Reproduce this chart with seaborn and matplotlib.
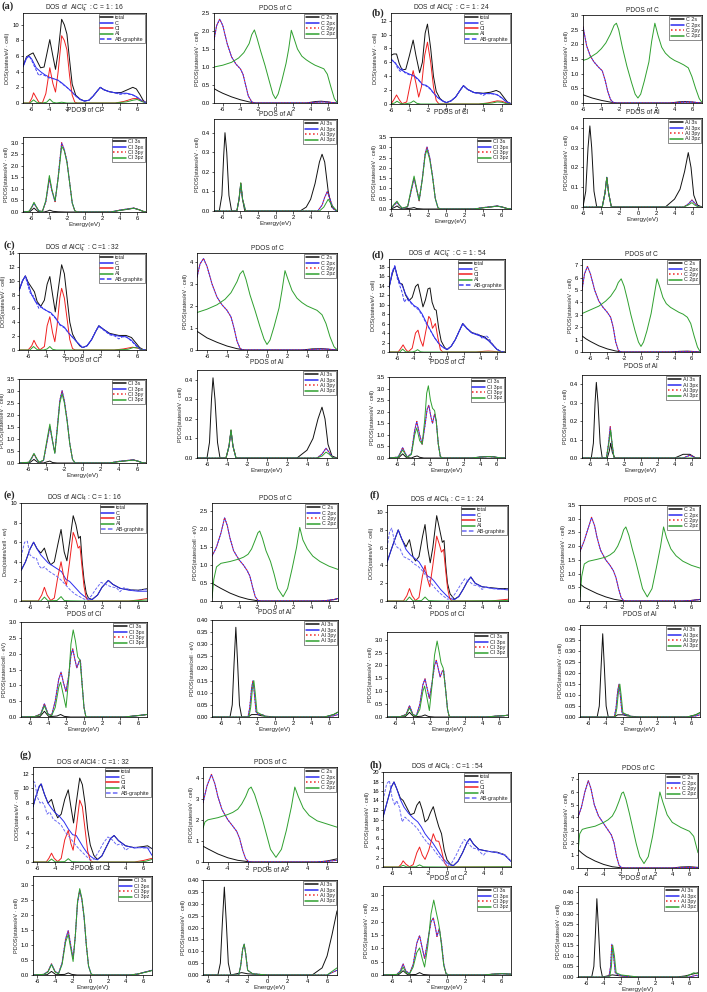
# DOS / PDOS panels (a)-(h) for AlCl4 intercalated graphite
import matplotlib
matplotlib.use("Agg")
import matplotlib.pyplot as plt
from matplotlib.ticker import FormatStrFormatter
import pandas as pd
import seaborn as sns

# ---------------- data: (energy eV, states) ----------------
# panel (a)  C = 1:16, anion
A_TOT = [(-7,4.7),(-6.6,5.9),(-6.2,6.2),(-5.85,6.4),(-5.5,5.6),(-5.0,4.5),(-4.6,4.6),(-4.3,6.2),(-3.95,8.1),(-3.6,6.0),(-3.3,4.3),(-3.0,6.5),(-2.6,10.7),(-2.3,10.0),(-2.0,8.8),(-1.7,5.5),(-1.4,2.4),(-1.0,1.0),(-0.5,0.5),(0,0.25),(0.5,0.35),(1.0,0.9),(1.5,1.6),(1.8,2.0),(2.2,1.7),(2.8,1.45),(3.5,1.3),(4.2,1.35),(4.8,1.65),(5.5,2.0),(5.9,1.8),(6.3,1.1),(6.7,0.3),(7,0.05)]
A_C = [(-7,4.6),(-6.6,5.7),(-6.3,6.0),(-6.0,5.6),(-5.5,4.5),(-5.0,4.0),(-4.5,3.6),(-4.0,3.3),(-3.5,3.1),(-3.0,2.9),(-2.5,2.5),(-2.0,2.0),(-1.5,1.5),(-1.0,0.9),(-0.5,0.45),(0,0.25),(0.5,0.35),(1.0,0.9),(1.5,1.6),(1.8,2.0),(2.2,1.7),(2.8,1.45),(3.5,1.3),(4.2,1.25),(4.8,1.25),(5.5,1.05),(6.0,0.75),(6.5,0.3),(7,0.05)]
A_CL = [(-7,0),(-6.3,0),(-6.0,0.6),(-5.8,1.3),(-5.5,0.7),(-5.2,0.1),(-4.8,0),(-4.4,1.2),(-3.95,4.5),(-3.6,2.5),(-3.3,1.4),(-3.0,4.0),(-2.6,8.6),(-2.3,8.0),(-2.0,6.8),(-1.7,3.5),(-1.4,1.0),(-1.1,0.1),(-0.8,0),(3.5,0),(4.5,0.2),(5.5,0.55),(6.0,0.6),(6.5,0.3),(7,0.05)]
A_AL = [(-7,0),(-6.2,0),(-5.8,0.4),(-5.4,0.05),(-4.8,0),(-4.3,0.1),(-3.95,0.5),(-3.6,0.1),(-3.2,0),(-2.6,0.1),(-2.0,0),(3.5,0),(4.8,0.15),(5.5,0.35),(6.0,0.45),(6.5,0.2),(7,0)]
A_AB = [(-7,4.7),(-6.6,5.8),(-6.3,6.0),(-6.0,5.4),(-5.5,4.2),(-5.2,3.5),(-4.9,3.7),(-4.5,3.5),(-4.0,3.2),(-3.5,3.1),(-3.0,2.9),(-2.5,2.4),(-2.0,2.0),(-1.5,1.5),(-1.0,0.9),(-0.5,0.45),(0,0.25),(0.5,0.35),(1.0,0.9),(1.5,1.6),(1.8,2.0),(2.2,1.7),(2.8,1.45),(3.5,1.3),(4.0,1.1),(4.3,1.15),(4.8,1.2),(5.5,1.0),(6.0,0.7),(6.5,0.3),(7,0.05)]
A_C2S = [(-7,0.4),(-6.5,0.33),(-6,0.27),(-5,0.17),(-4,0.09),(-3,0.03),(-2.3,0.0),(3.5,0.0),(4.5,0.04),(5.2,0.05),(6,0.03),(6.5,0.01),(7,0)]
A_C2P = [(-7,1.75),(-6.7,2.15),(-6.35,2.33),(-6.0,2.15),(-5.5,1.65),(-5.0,1.28),(-4.5,1.08),(-4.0,0.95),(-3.7,0.8),(-3.4,0.5),(-3.1,0.2),(-2.7,0.03),(-2.4,0),(3.5,0),(4.5,0.02),(5.5,0.03),(6.5,0.01),(7,0)]
A_C2PZ = [(-7,1.0),(-6,1.05),(-5,1.13),(-4.2,1.25),(-3.6,1.4),(-3.0,1.65),(-2.7,1.9),(-2.4,2.03),(-2.1,1.8),(-1.7,1.45),(-1.2,1.05),(-0.7,0.6),(-0.3,0.25),(0,0.12),(0.3,0.25),(0.7,0.6),(1.2,1.1),(1.5,1.5),(1.8,2.02),(2.1,1.8),(2.5,1.5),(3.0,1.3),(3.5,1.2),(4.0,1.12),(4.5,1.05),(5.0,1.0),(5.5,0.95),(5.9,0.8),(6.3,0.45),(6.7,0.12),(7,0.02)]
A_CL3S = [(-7,0),(-6.2,0.02),(-5.75,0.17),(-5.3,0.02),(-4.6,0),(-4.2,0.04),(-3.95,0.08),(-3.6,0.03),(-3.0,0.01),(-2.0,0),(3.0,0),(4.0,0.07),(5.0,0.12),(5.6,0.17),(6.2,0.1),(6.8,0.01),(7,0)]
A_CL3P = [(-7,0),(-6.3,0.03),(-6.0,0.2),(-5.75,0.38),(-5.5,0.22),(-5.2,0.05),(-4.8,0.02),(-4.4,0.45),(-4.0,1.45),(-3.7,0.9),(-3.35,0.45),(-3.0,1.5),(-2.6,3.0),(-2.3,2.7),(-2.0,2.2),(-1.7,1.3),(-1.4,0.4),(-1.1,0.05),(-0.8,0),(3.0,0),(4.0,0.08),(5.0,0.14),(5.6,0.17),(6.2,0.1),(6.8,0.01),(7,0)]
A_CL3PZ = [(-7,0),(-6.3,0.03),(-6.0,0.22),(-5.75,0.42),(-5.5,0.24),(-5.2,0.05),(-4.8,0.02),(-4.4,0.5),(-4.0,1.58),(-3.7,0.95),(-3.35,0.48),(-3.0,1.45),(-2.6,2.85),(-2.3,2.65),(-2.0,2.15),(-1.7,1.3),(-1.4,0.4),(-1.1,0.05),(-0.8,0),(3.0,0),(4.0,0.07),(5.0,0.13),(5.6,0.16),(6.2,0.1),(6.8,0.01),(7,0)]
A_AL3S = [(-7,0),(-6.4,0),(-6.1,0.08),(-5.9,0.28),(-5.75,0.4),(-5.55,0.3),(-5.3,0.08),(-5.0,0),(-4.4,0),(-4.15,0.06),(-3.95,0.14),(-3.75,0.06),(-3.5,0),(2.8,0),(3.5,0.02),(4.0,0.06),(4.5,0.14),(5.0,0.25),(5.3,0.29),(5.6,0.25),(6.0,0.1),(6.4,0.02),(7,0)]
A_AL3P = [(-7,0),(-4.4,0),(-4.15,0.06),(-3.95,0.14),(-3.75,0.06),(-3.4,0),(4.8,0),(5.3,0.03),(5.6,0.07),(5.9,0.1),(6.2,0.06),(6.6,0.01),(7,0)]
A_AL3PZ = [(-7,0),(-4.4,0),(-4.15,0.06),(-3.95,0.145),(-3.75,0.06),(-3.4,0),(5.0,0),(5.5,0.02),(6.0,0.06),(6.4,0.03),(7,0)]

# panel (b)  C = 1:24, anion
B_TOT = [(-6,7.0),(-5.7,7.2),(-5.4,7.2),(-5.1,5.8),(-4.8,4.9),(-4.4,5.0),(-4.0,7.0),(-3.6,9.2),(-3.3,7.0),(-2.9,4.5),(-2.6,6.0),(-2.3,10.2),(-2.05,11.5),(-1.7,8.0),(-1.4,4.0),(-1.1,1.8),(-0.7,0.8),(-0.3,0.35),(0,0.2),(0.5,0.45),(1.0,1.0),(1.5,2.0),(1.85,2.65),(2.3,2.1),(3.0,1.65),(4.0,1.55),(4.8,1.7),(5.4,1.95),(5.8,1.7),(6.2,1.0),(6.6,0.3),(7,0.05)]
B_C = [(-6,6.5),(-5.5,5.8),(-5.0,5.0),(-4.5,4.6),(-4.0,4.3),(-3.5,4.1),(-3.0,3.5),(-2.6,2.8),(-2.2,2.7),(-1.8,2.3),(-1.4,1.6),(-1.0,1.0),(-0.5,0.5),(0,0.2),(0.5,0.45),(1.0,1.0),(1.5,2.0),(1.85,2.65),(2.3,2.1),(3.0,1.65),(4.0,1.5),(5.0,1.5),(5.5,1.35),(6.0,0.9),(6.5,0.3),(7,0.05)]
B_CL = [(-6,0),(-5.7,0.6),(-5.4,1.3),(-5.1,0.6),(-4.8,0.05),(-4.3,0.3),(-3.9,3.0),(-3.6,4.8),(-3.3,3.0),(-3.0,1.0),(-2.7,2.5),(-2.35,7.0),(-2.05,8.9),(-1.7,6.0),(-1.4,2.5),(-1.1,0.5),(-0.8,0),(3.5,0),(4.5,0.15),(5.5,0.45),(6.0,0.4),(6.5,0.15),(7,0)]
B_AL = [(-6,0),(-5.6,0.15),(-5.35,0.4),(-5.0,0.1),(-4.6,0),(-3.9,0.15),(-3.55,0.45),(-3.2,0.1),(-2.8,0),(3.5,0),(5.0,0.15),(5.5,0.3),(6.0,0.25),(6.5,0.05),(7,0)]
B_AB = [(-6,6.4),(-5.5,5.9),(-5.3,5.2),(-5.0,4.7),(-4.8,5.1),(-4.5,4.5),(-4.0,4.2),(-3.5,4.0),(-3.0,3.4),(-2.6,2.8),(-2.2,2.6),(-1.8,2.2),(-1.4,1.6),(-1.0,1.0),(-0.5,0.5),(0,0.2),(0.5,0.45),(1.0,1.0),(1.5,2.0),(1.85,2.6),(2.3,2.1),(3.0,1.6),(3.6,1.5),(4.0,1.25),(4.4,1.5),(5.0,1.45),(5.5,1.3),(6.0,0.85),(6.5,0.3),(7,0.05)]
B_C2S = [(-6,0.28),(-5,0.17),(-4,0.09),(-3,0.03),(-2.3,0),(3.5,0),(4.5,0.04),(5.2,0.05),(6,0.03),(6.5,0.01),(7,0)]
B_C2P = [(-6,2.6),(-5.6,1.95),(-5.2,1.6),(-4.8,1.4),(-4.3,1.22),(-3.9,1.1),(-3.6,0.8),(-3.3,0.4),(-3.0,0.12),(-2.7,0.02),(-2.4,0),(3.5,0),(5.0,0.03),(6.0,0.03),(7,0)]
B_C2PZ = [(-6,1.45),(-5.5,1.5),(-5,1.6),(-4.5,1.7),(-4,1.85),(-3.5,2.05),(-3.0,2.35),(-2.6,2.65),(-2.35,2.72),(-2.1,2.5),(-1.7,1.9),(-1.2,1.25),(-0.7,0.7),(-0.3,0.3),(0,0.17),(0.3,0.3),(0.7,0.75),(1.2,1.4),(1.5,2.1),(1.85,2.72),(2.2,2.3),(2.6,1.9),(3.0,1.7),(3.5,1.55),(4.0,1.45),(4.5,1.38),(5.0,1.3),(5.5,1.2),(5.9,0.9),(6.3,0.5),(6.7,0.15),(7,0.02)]
B_CL3S = [(-6,0),(-5.6,0.08),(-5.35,0.15),(-5.1,0.06),(-4.7,0),(-3.8,0.04),(-3.5,0.07),(-3.2,0.02),(-2.5,0),(3.0,0),(4.0,0.06),(5.0,0.11),(5.5,0.14),(6.0,0.1),(6.6,0.02),(7,0)]
B_CL3P = [(-6,0.02),(-5.65,0.2),(-5.35,0.32),(-5.1,0.18),(-4.8,0.04),(-4.2,0.1),(-3.8,0.9),(-3.5,1.5),(-3.2,0.9),(-2.95,0.4),(-2.6,1.5),(-2.3,2.7),(-2.1,3.02),(-1.8,2.5),(-1.5,1.6),(-1.2,0.5),(-0.9,0.05),(-0.6,0),(3.0,0),(4.0,0.07),(5.0,0.12),(5.5,0.15),(6.0,0.1),(6.6,0.02),(7,0)]
B_CL3PZ = [(-6,0.02),(-5.65,0.24),(-5.35,0.38),(-5.1,0.2),(-4.8,0.04),(-4.2,0.12),(-3.8,1.0),(-3.5,1.6),(-3.2,0.95),(-2.95,0.42),(-2.6,1.45),(-2.3,2.6),(-2.1,2.88),(-1.8,2.4),(-1.5,1.55),(-1.2,0.5),(-0.9,0.05),(-0.6,0),(3.0,0),(4.0,0.06),(5.0,0.11),(5.5,0.14),(6.0,0.1),(6.6,0.02),(7,0)]
B_AL3S = [(-6,0),(-5.7,0.08),(-5.45,0.3),(-5.25,0.41),(-5.05,0.3),(-4.8,0.08),(-4.5,0),(-3.9,0),(-3.6,0.07),(-3.4,0.15),(-3.2,0.07),(-2.9,0),(3.0,0),(4.0,0.04),(4.6,0.09),(5.1,0.18),(5.5,0.275),(5.8,0.2),(6.1,0.06),(6.5,0.01),(7,0)]
B_AL3P = [(-6,0),(-3.9,0),(-3.6,0.07),(-3.4,0.15),(-3.2,0.07),(-2.9,0),(5.0,0),(5.5,0.015),(5.9,0.035),(6.2,0.02),(6.6,0),(7,0)]
B_AL3PZ = [(-6,0),(-3.9,0),(-3.6,0.07),(-3.4,0.15),(-3.2,0.07),(-2.9,0),(5.0,0),(5.5,0.01),(5.9,0.022),(6.2,0.01),(6.6,0),(7,0)]

# panel (c)  C = 1:32, anion
C_TOT = [(-7,8.6),(-6.6,10.0),(-6.3,10.7),(-6.0,9.8),(-5.6,9.0),(-5.3,8.4),(-5.0,7.0),(-4.6,6.3),(-4.2,7.2),(-3.9,9.5),(-3.6,10.6),(-3.3,8.0),(-3.0,5.5),(-2.7,8.5),(-2.3,12.3),(-2.0,11.0),(-1.7,7.5),(-1.4,4.0),(-1.1,2.3),(-0.7,1.3),(-0.3,0.6),(0,0.35),(0.5,0.6),(1.0,1.5),(1.5,2.8),(1.8,3.5),(2.3,3.0),(3.0,2.4),(4.0,2.1),(4.8,2.1),(5.4,1.8),(5.9,1.0),(6.3,0.35),(6.7,0.05),(7,0)]
C_C = [(-7,8.5),(-6.6,10.0),(-6.3,10.7),(-6.0,9.6),(-5.6,8.0),(-5.2,7.0),(-4.8,6.5),(-4.4,6.0),(-4.0,5.7),(-3.5,5.4),(-3.0,4.7),(-2.5,3.7),(-2.0,3.3),(-1.5,2.4),(-1.0,1.7),(-0.5,1.0),(0,0.35),(0.5,0.6),(1.0,1.5),(1.5,2.8),(1.8,3.5),(2.3,3.0),(3.0,2.3),(4.0,2.0),(4.8,1.9),(5.4,1.4),(5.9,0.7),(6.3,0.2),(6.7,0.02),(7,0)]
C_CL = [(-7,0),(-6.0,0),(-5.6,0.6),(-5.35,1.4),(-5.05,0.6),(-4.7,0.02),(-4.2,0.5),(-3.9,3.5),(-3.6,4.8),(-3.3,2.5),(-3.05,1.2),(-2.8,3.5),(-2.5,7.5),(-2.3,8.9),(-2.0,7.5),(-1.7,4.5),(-1.4,1.5),(-1.1,0.2),(-0.8,0),(3.5,0),(4.5,0.15),(5.5,0.4),(6.0,0.3),(6.5,0.1),(7,0)]
C_AL = [(-7,0),(-5.8,0),(-5.4,0.5),(-5.0,0.05),(-4.3,0),(-3.9,0.15),(-3.6,0.5),(-3.3,0.1),(-2.9,0),(3.5,0),(5.0,0.1),(5.6,0.35),(6.1,0.3),(6.6,0.05),(7,0)]
C_AB = [(-7,8.6),(-6.6,10.1),(-6.3,10.6),(-6.0,9.2),(-5.7,8.0),(-5.4,7.8),(-5.1,6.8),(-4.8,6.0),(-4.5,6.2),(-4.0,5.7),(-3.5,5.3),(-3.0,4.6),(-2.5,3.6),(-2.0,3.2),(-1.5,2.4),(-1.0,1.7),(-0.5,1.0),(0,0.35),(0.5,0.6),(1.0,1.5),(1.5,2.8),(1.8,3.4),(2.3,2.9),(3.0,2.2),(3.6,2.0),(4.0,1.6),(4.4,1.9),(4.8,1.9),(5.4,1.3),(5.9,0.6),(6.3,0.15),(7,0)]
C_C2S = [(-7,0.85),(-6.5,0.7),(-6,0.55),(-5,0.35),(-4,0.18),(-3,0.06),(-2.2,0),(3.5,0),(4.5,0.05),(5.5,0.06),(6.5,0.02),(7,0)]
C_C2P = [(-7,3.3),(-6.7,3.9),(-6.35,4.15),(-6.0,3.8),(-5.5,3.0),(-5.0,2.4),(-4.5,2.05),(-4.0,1.8),(-3.6,1.5),(-3.3,1.0),(-3.0,0.4),(-2.7,0.08),(-2.4,0),(4.0,0),(5.0,0.04),(6.0,0.04),(7,0)]
C_C2PZ = [(-7,1.7),(-6,1.85),(-5,2.05),(-4.2,2.3),(-3.6,2.6),(-3.0,3.1),(-2.7,3.45),(-2.4,3.6),(-2.1,3.2),(-1.7,2.5),(-1.2,1.8),(-0.7,1.05),(-0.3,0.5),(0,0.25),(0.3,0.45),(0.7,1.05),(1.2,1.9),(1.5,2.7),(1.8,3.6),(2.1,3.2),(2.5,2.7),(3.0,2.35),(3.5,2.15),(4.0,2.0),(4.5,1.9),(5.0,1.8),(5.5,1.6),(5.9,1.2),(6.3,0.6),(6.7,0.15),(7,0.02)]
C_CL3S = [(-7,0),(-5.8,0.02),(-5.35,0.15),(-4.9,0.02),(-4.3,0),(-3.9,0.05),(-3.6,0.08),(-3.3,0.02),(-2.8,0),(3.0,0),(4.0,0.06),(5.0,0.1),(5.6,0.13),(6.1,0.08),(6.6,0.01),(7,0)]
C_CL3P = [(-7,0),(-5.9,0.03),(-5.6,0.2),(-5.35,0.38),(-5.1,0.2),(-4.8,0.03),(-4.3,0.1),(-3.9,0.9),(-3.6,1.52),(-3.3,0.9),(-3.05,0.42),(-2.8,1.4),(-2.5,2.6),(-2.25,3.02),(-2.0,2.6),(-1.7,1.8),(-1.4,0.8),(-1.1,0.15),(-0.8,0),(3.0,0),(4.0,0.07),(5.0,0.11),(5.6,0.13),(6.1,0.08),(6.6,0.01),(7,0)]
C_CL3PZ = [(-7,0),(-5.9,0.03),(-5.6,0.22),(-5.35,0.4),(-5.1,0.22),(-4.8,0.03),(-4.3,0.12),(-3.9,1.0),(-3.6,1.62),(-3.3,0.92),(-3.05,0.4),(-2.8,1.3),(-2.5,2.5),(-2.25,2.88),(-2.0,2.5),(-1.7,1.75),(-1.4,0.8),(-1.1,0.15),(-0.8,0),(3.0,0),(4.0,0.06),(5.0,0.1),(5.6,0.12),(6.1,0.08),(6.6,0.01),(7,0)]
C_AL3S = [(-7,0),(-6.0,0),(-5.75,0.08),(-5.55,0.3),(-5.4,0.41),(-5.2,0.3),(-4.95,0.08),(-4.7,0),(-4.1,0),(-3.8,0.06),(-3.6,0.14),(-3.4,0.06),(-3.1,0),(3.0,0),(4.0,0.04),(4.6,0.1),(5.1,0.2),(5.5,0.26),(5.8,0.2),(6.1,0.07),(6.5,0.01),(7,0)]
C_AL3P = [(-7,0),(-4.1,0),(-3.8,0.06),(-3.6,0.14),(-3.4,0.06),(-3.1,0),(5.0,0),(5.5,0.02),(5.9,0.05),(6.2,0.03),(6.6,0),(7,0)]
C_AL3PZ = [(-7,0),(-4.1,0),(-3.8,0.06),(-3.6,0.145),(-3.4,0.06),(-3.1,0),(5.0,0),(5.5,0.01),(5.9,0.03),(6.2,0.02),(6.6,0),(7,0)]

# panel (d)  C = 1:54, anion
D_TOT = [(-7,13.5),(-6.6,16.5),(-6.3,18.0),(-6.0,16.0),(-5.7,14.5),(-5.4,14.3),(-5.0,12.0),(-4.6,10.8),(-4.2,11.5),(-3.8,13.8),(-3.5,14.3),(-3.2,12.0),(-2.9,9.5),(-2.6,11.0),(-2.3,13.3),(-2.05,13.5),(-1.8,10.5),(-1.5,9.0),(-1.3,8.8),(-1.0,5.0),(-0.7,2.3),(-0.3,1.0),(0,0.5),(0.5,1.2),(1.0,2.6),(1.5,4.5),(1.9,6.0),(2.4,5.0),(3.0,4.1),(3.8,3.6),(4.5,3.2),(5.0,2.5),(5.5,1.6),(6.0,0.6),(6.5,0.1),(7,0)]
D_C = [(-7,13.5),(-6.6,16.8),(-6.3,18.0),(-6.0,16.0),(-5.7,14.6),(-5.4,14.0),(-5.0,12.2),(-4.5,10.8),(-4.0,9.8),(-3.5,9.3),(-3.0,8.0),(-2.5,6.2),(-2.0,4.6),(-1.5,3.0),(-1.0,1.8),(-0.5,1.0),(0,0.5),(0.5,1.2),(1.0,2.6),(1.5,4.5),(1.9,6.0),(2.4,5.0),(3.0,4.0),(3.8,3.5),(4.5,3.0),(5.0,2.4),(5.5,1.5),(6.0,0.6),(6.5,0.1),(7,0)]
D_CL = [(-7,0),(-5.9,0),(-5.6,0.7),(-5.3,1.5),(-5.0,0.6),(-4.7,0.02),(-4.2,0.8),(-3.8,4.0),(-3.5,4.6),(-3.2,2.5),(-2.9,1.2),(-2.6,4.0),(-2.2,7.5),(-2.0,7.0),(-1.75,5.0),(-1.4,6.0),(-1.1,3.0),(-0.8,0.5),(-0.5,0),(3.5,0),(4.5,0.15),(5.0,0.2),(5.5,0.15),(6.2,0),(7,0)]
D_AL = [(-7,0),(-5.7,0),(-5.35,0.6),(-5.0,0.05),(-4.2,0),(-3.8,0.2),(-3.55,0.5),(-3.2,0.05),(-2.8,0),(7,0)]
D_AB = [(-7,13.5),(-6.6,17.0),(-6.3,18.2),(-6.0,15.5),(-5.7,14.0),(-5.4,12.5),(-5.15,10.5),(-4.9,11.2),(-4.6,10.8),(-4.2,10.0),(-3.8,9.4),(-3.5,9.0),(-3.0,7.8),(-2.5,6.0),(-2.0,4.5),(-1.5,3.0),(-1.0,1.8),(-0.5,1.0),(0,0.5),(0.5,1.2),(1.0,2.6),(1.5,4.5),(1.9,5.9),(2.4,4.9),(3.0,4.0),(3.5,3.9),(3.9,3.6),(4.3,2.8),(4.7,3.5),(5.0,3.0),(5.5,1.6),(6.0,0.6),(6.5,0.1),(7,0)]
D_C2S = [(-7,1.3),(-6.5,1.05),(-6,0.85),(-5,0.5),(-4,0.25),(-3,0.08),(-2.2,0),(3.5,0),(4.5,0.05),(5.5,0.07),(6.5,0.03),(7,0)]
D_C2P = [(-7,5.0),(-6.7,6.3),(-6.35,6.9),(-6.0,6.3),(-5.5,5.0),(-5.0,4.1),(-4.5,3.6),(-4.0,3.2),(-3.6,2.8),(-3.3,2.0),(-3.0,0.8),(-2.7,0.15),(-2.4,0),(4.0,0),(5.0,0.04),(6.0,0.04),(7,0)]
D_C2PZ = [(-7,3.1),(-6,3.4),(-5,3.7),(-4.2,4.1),(-3.6,4.5),(-3.0,5.1),(-2.7,5.6),(-2.35,5.9),(-2.0,5.3),(-1.6,4.2),(-1.2,3.0),(-0.7,1.7),(-0.3,0.8),(0,0.45),(0.3,0.8),(0.7,1.7),(1.2,3.1),(1.5,4.3),(1.9,5.9),(2.2,5.3),(2.6,4.4),(3.0,3.9),(3.5,3.6),(4.0,3.4),(4.5,3.2),(5.0,3.05),(5.5,2.8),(5.9,2.3),(6.3,1.3),(6.7,0.4),(7,0.05)]
D_CL3S = [(-7,0),(-5.8,0.02),(-5.35,0.18),(-4.9,0.02),(-4.3,0),(-3.9,0.06),(-3.6,0.09),(-3.3,0.03),(-2.8,0),(3.0,0),(4.0,0.04),(5.0,0.06),(5.6,0.05),(6.3,0.01),(7,0)]
D_CL3P = [(-7,0),(-5.9,0.04),(-5.6,0.25),(-5.35,0.45),(-5.1,0.25),(-4.8,0.04),(-4.3,0.2),(-3.9,1.2),(-3.65,1.58),(-3.3,1.0),(-3.0,0.6),(-2.7,1.3),(-2.4,2.1),(-2.2,2.28),(-1.95,1.8),(-1.75,1.5),(-1.5,1.9),(-1.3,1.6),(-1.05,0.6),(-0.8,0.05),(-0.5,0),(3.0,0),(4.0,0.04),(5.0,0.06),(5.6,0.05),(6.3,0.01),(7,0)]
D_CL3PZ = [(-7,0),(-5.9,0.03),(-5.6,0.2),(-5.35,0.35),(-5.1,0.2),(-4.8,0.03),(-4.3,0.15),(-3.9,1.0),(-3.65,1.3),(-3.3,0.75),(-3.0,0.6),(-2.7,1.6),(-2.45,2.8),(-2.25,3.12),(-2.0,2.5),(-1.75,2.15),(-1.5,2.05),(-1.3,1.6),(-1.05,0.6),(-0.8,0.05),(-0.5,0),(3.0,0),(4.0,0.04),(5.0,0.06),(5.6,0.05),(6.3,0.01),(7,0)]
D_AL3S = [(-7,0),(-5.9,0),(-5.65,0.08),(-5.45,0.3),(-5.3,0.41),(-5.1,0.3),(-4.85,0.08),(-4.6,0),(-4.0,0),(-3.75,0.04),(-3.6,0.08),(-3.4,0.03),(-3.1,0),(4.0,0),(5.0,0.02),(5.8,0.02),(6.5,0),(7,0)]
D_AL3P = [(-7,0),(-4.1,0),(-3.85,0.08),(-3.65,0.17),(-3.45,0.08),(-3.2,0),(5.0,0),(5.8,0.015),(6.5,0),(7,0)]
D_AL3PZ = [(-7,0),(-4.1,0),(-3.85,0.07),(-3.6,0.15),(-3.4,0.07),(-3.2,0),(7,0)]

# panel (e)  C = 1:16, neutral
E_TOT = [(-7,3.1),(-6.5,4.0),(-6.0,5.3),(-5.6,6.0),(-5.2,5.3),(-4.8,4.9),(-4.4,5.4),(-4.0,4.2),(-3.7,3.7),(-3.3,4.0),(-2.9,5.8),(-2.55,7.3),(-2.2,5.0),(-1.9,4.1),(-1.6,6.0),(-1.2,8.7),(-0.9,7.8),(-0.6,6.4),(-0.4,6.6),(-0.2,4.0),(0,2.2),(0.25,0.8),(0.5,0.3),(0.9,0.15),(1.5,0.6),(2.0,1.4),(2.7,2.1),(3.2,1.7),(4.0,1.3),(5.0,1.15),(6.0,1.1),(7,1.25)]
E_C = [(-7,3.1),(-6.5,4.0),(-6.0,5.3),(-5.6,6.0),(-5.2,5.3),(-4.8,4.7),(-4.4,4.3),(-4.0,3.9),(-3.5,3.6),(-3.0,3.3),(-2.5,3.0),(-2.0,2.2),(-1.6,2.0),(-1.2,1.6),(-0.8,1.2),(-0.4,0.8),(0,0.5),(0.5,0.2),(0.9,0.15),(1.5,0.6),(2.0,1.4),(2.7,2.1),(3.2,1.7),(4.0,1.3),(5.0,1.1),(6.0,1.0),(7,1.0)]
E_CL = [(-7,0),(-5.1,0),(-4.7,0.6),(-4.4,1.4),(-4.1,0.6),(-3.7,0.05),(-3.3,0.3),(-2.9,2.5),(-2.55,4.0),(-2.2,2.2),(-1.95,1.6),(-1.6,4.0),(-1.2,7.0),(-0.9,6.3),(-0.65,5.4),(-0.45,5.6),(-0.2,3.3),(0,1.5),(0.25,0.3),(0.5,0),(5.0,0),(6.0,0.1),(7,0.25)]
E_AL = [(-7,0),(-4.8,0),(-4.4,0.4),(-4.0,0.02),(-3.0,0.05),(-2.55,0.45),(-2.2,0.05),(-1.5,0.02),(0,0),(5.0,0),(6.0,0.05),(7,0.1)]
E_AB = [(-7,4.5),(-6.6,6.0),(-6.3,6.1),(-6.0,4.7),(-5.6,4.4),(-5.3,4.4),(-5.0,3.6),(-4.7,3.3),(-4.4,3.5),(-4.0,3.1),(-3.5,2.8),(-3.0,2.5),(-2.5,2.1),(-2.0,1.6),(-1.5,1.1),(-1.0,0.7),(-0.5,0.45),(0,0.2),(0.3,0.12),(0.8,0.5),(1.3,1.2),(1.9,1.9),(2.4,1.7),(3.0,1.45),(3.6,1.35),(4.0,0.95),(4.4,1.35),(5.0,1.2),(5.5,1.1),(6.0,1.1),(7,1.2)]
E_C2S = [(-7,0.5),(-6.5,0.42),(-6,0.35),(-5,0.22),(-4,0.12),(-3,0.05),(-2,0.01),(-1.5,0),(5,0),(6,0.02),(6.5,0.04),(7,0.07)]
E_C2P = [(-7,1.25),(-6.5,1.5),(-6.0,1.9),(-5.6,2.32),(-5.3,2.1),(-5.0,1.75),(-4.6,1.4),(-4.0,1.15),(-3.5,1.0),(-3.1,0.85),(-2.8,0.7),(-2.5,0.4),(-2.2,0.12),(-1.9,0.02),(-1.6,0),(5.0,0),(6.0,0.02),(6.6,0.04),(7,0.07)]
E_C2PZ = [(-7,0.08),(-6.8,0.6),(-6.5,0.95),(-6.0,1.05),(-5.0,1.1),(-4.0,1.17),(-3.5,1.22),(-3.0,1.3),(-2.6,1.45),(-2.2,1.7),(-1.9,1.9),(-1.7,1.95),(-1.4,1.75),(-1.0,1.4),(-0.5,1.1),(-0.1,0.75),(0.3,0.35),(0.9,0.12),(1.4,0.35),(1.9,0.9),(2.4,1.5),(2.75,2.05),(3.1,1.7),(3.6,1.45),(4.2,1.25),(5.0,1.1),(6.0,0.97),(7,0.88)]
E_CL3S = [(-7,0),(-4.9,0.01),(-4.4,0.18),(-3.9,0.01),(-3.0,0.03),(-2.6,0.08),(-2.2,0.02),(-1.5,0),(4.5,0),(5.5,0.03),(6.5,0.06),(7,0.08)]
E_CL3P = [(-7,0),(-5.5,0.01),(-4.8,0.1),(-4.4,0.42),(-4.0,0.1),(-3.6,0.05),(-3.2,0.5),(-2.8,1.2),(-2.55,1.42),(-2.3,1.1),(-2.0,0.8),(-1.7,1.3),(-1.45,1.95),(-1.25,2.15),(-1.0,1.8),(-0.8,1.55),(-0.55,1.75),(-0.4,1.8),(-0.2,1.0),(0,0.3),(0.2,0.02),(0.4,0),(4.5,0),(5.5,0.03),(6.5,0.06),(7,0.08)]
E_CL3PZ = [(-7,0),(-5.5,0.01),(-4.8,0.08),(-4.4,0.35),(-4.0,0.08),(-3.6,0.04),(-3.2,0.3),(-2.8,0.95),(-2.6,1.1),(-2.3,0.7),(-2.0,0.3),(-1.7,1.2),(-1.45,2.3),(-1.2,2.75),(-0.95,2.4),(-0.7,1.9),(-0.45,1.8),(-0.2,1.0),(0,0.3),(0.2,0.02),(0.4,0),(4.5,0),(5.5,0.03),(6.5,0.06),(7,0.08)]
E_AL3S = [(-7,0),(-5.0,0),(-4.75,0.05),(-4.55,0.22),(-4.35,0.37),(-4.15,0.22),(-3.95,0.05),(-3.7,0),(-3.0,0),(-2.6,0.01),(-2.0,0.01),(-1.5,0.005),(0,0),(5.5,0),(6.5,0.01),(7,0.02)]
E_AL3P = [(-7,0),(-3.0,0),(-2.8,0.04),(-2.6,0.12),(-2.45,0.15),(-2.3,0.1),(-2.1,0.02),(-1.8,0.01),(-1.4,0.01),(-1.0,0),(5.5,0),(6.5,0.005),(7,0.01)]
E_AL3PZ = [(-7,0),(-2.9,0),(-2.7,0.04),(-2.5,0.12),(-2.35,0.15),(-2.2,0.1),(-2.0,0.02),(-1.5,0.01),(-1.0,0),(5.5,0),(6.5,0.01),(7,0.02)]

# panel (f)  C = 1:24, neutral
F_TOT = [(-7,4.4),(-6.5,5.8),(-6.0,7.2),(-5.7,8.0),(-5.3,7.0),(-4.8,6.1),(-4.4,6.9),(-4.0,5.0),(-3.7,4.5),(-3.3,5.0),(-2.9,7.2),(-2.6,8.6),(-2.3,6.0),(-2.0,4.3),(-1.7,6.0),(-1.25,9.6),(-0.9,8.0),(-0.6,6.6),(-0.4,6.8),(-0.2,4.0),(0,2.0),(0.3,0.8),(0.8,0.2),(1.3,0.5),(1.8,1.3),(2.3,2.2),(2.7,2.7),(3.2,2.0),(4.0,1.6),(5.0,1.5),(6.0,1.4),(7,1.4)]
F_C = [(-7,4.3),(-6.5,5.8),(-6.0,7.2),(-5.7,8.0),(-5.3,7.0),(-4.8,5.8),(-4.3,5.2),(-3.8,4.8),(-3.3,4.4),(-2.8,3.6),(-2.3,2.8),(-1.9,2.6),(-1.6,2.3),(-1.2,1.8),(-0.8,1.3),(-0.4,0.9),(0,0.5),(0.4,0.25),(0.8,0.15),(1.3,0.5),(1.8,1.3),(2.3,2.2),(2.7,2.7),(3.2,2.0),(4.0,1.6),(5.0,1.45),(6.0,1.35),(7,1.25)]
F_CL = [(-7,0),(-5.1,0),(-4.7,0.6),(-4.4,1.4),(-4.1,0.6),(-3.7,0.05),(-3.3,0.4),(-2.9,2.8),(-2.6,4.0),(-2.3,2.4),(-2.05,1.6),(-1.7,4.0),(-1.25,7.3),(-0.95,6.4),(-0.7,5.5),(-0.45,5.8),(-0.2,3.3),(0,1.5),(0.25,0.3),(0.5,0),(5.0,0),(6.0,0.1),(7,0.2)]
F_AL = [(-7,0),(-4.8,0),(-4.4,0.45),(-4.0,0.02),(-3.0,0.05),(-2.6,0.45),(-2.2,0.05),(-1.5,0.02),(0,0),(7,0.05)]
F_AB = [(-7,6.0),(-6.7,7.8),(-6.45,8.2),(-6.1,6.5),(-5.8,6.0),(-5.5,5.9),(-5.1,5.0),(-4.7,4.8),(-4.3,4.6),(-3.9,4.2),(-3.4,3.9),(-2.9,3.4),(-2.4,2.7),(-1.9,2.0),(-1.4,1.4),(-0.9,0.9),(-0.4,0.5),(0,0.2),(0.5,0.3),(1.0,1.0),(1.5,1.8),(2.0,2.5),(2.5,2.2),(3.0,1.8),(3.6,1.7),(4.0,1.3),(4.5,1.6),(5.0,1.4),(6.0,1.3),(7,1.35)]
F_C2S = [(-7,0.62),(-6.5,0.5),(-6,0.42),(-5,0.27),(-4,0.15),(-3,0.06),(-2,0.01),(-1.5,0),(5,0),(6,0.02),(7,0.06)]
F_C2P = [(-7,1.8),(-6.5,2.2),(-6.0,2.7),(-5.65,3.05),(-5.3,2.75),(-5.0,2.3),(-4.6,1.85),(-4.0,1.5),(-3.5,1.3),(-3.1,1.1),(-2.8,0.85),(-2.5,0.45),(-2.2,0.12),(-1.9,0.02),(-1.6,0),(5,0),(6,0.02),(7,0.05)]
F_C2PZ = [(-7,0.15),(-6.8,0.9),(-6.5,1.35),(-6,1.45),(-5,1.52),(-4,1.6),(-3.5,1.68),(-3.0,1.8),(-2.6,2.0),(-2.2,2.3),(-1.9,2.6),(-1.65,2.7),(-1.3,2.4),(-0.9,1.9),(-0.5,1.45),(-0.1,0.95),(0.3,0.45),(0.85,0.15),(1.4,0.45),(1.9,1.2),(2.4,2.0),(2.75,2.7),(3.1,2.3),(3.6,1.9),(4.2,1.65),(5.0,1.45),(6.0,1.3),(7,1.2)]
F_CL3S = [(-7,0),(-4.9,0.01),(-4.4,0.18),(-3.9,0.01),(-3.0,0.03),(-2.6,0.08),(-2.2,0.02),(-1.5,0),(4.5,0),(5.5,0.03),(6.5,0.05),(7,0.07)]
F_CL3P = [(-7,0),(-5.5,0.01),(-4.8,0.1),(-4.4,0.44),(-4.0,0.1),(-3.6,0.05),(-3.2,0.5),(-2.85,1.25),(-2.6,1.48),(-2.35,1.1),(-2.1,0.72),(-1.8,1.3),(-1.5,2.0),(-1.3,2.2),(-1.05,1.85),(-0.85,1.55),(-0.6,1.78),(-0.45,1.82),(-0.2,1.0),(0,0.3),(0.2,0.02),(0.4,0),(4.5,0),(5.5,0.03),(6.5,0.05),(7,0.07)]
F_CL3PZ = [(-7,0),(-5.5,0.01),(-4.8,0.08),(-4.4,0.35),(-4.0,0.08),(-3.6,0.04),(-3.2,0.3),(-2.85,1.0),(-2.65,1.2),(-2.35,0.7),(-2.1,0.25),(-1.8,1.2),(-1.5,2.4),(-1.2,2.95),(-0.95,2.5),(-0.75,2.1),(-0.5,1.9),(-0.2,1.0),(0,0.3),(0.2,0.02),(0.4,0),(4.5,0),(5.5,0.03),(6.5,0.05),(7,0.07)]
F_AL3S = [(-7,0),(-5.0,0),(-4.75,0.05),(-4.55,0.22),(-4.35,0.38),(-4.15,0.22),(-3.95,0.05),(-3.7,0),(-3.0,0),(-2.6,0.01),(-2.0,0.01),(-1.5,0.005),(0,0),(5.5,0),(6.5,0.01),(7,0.02)]
F_AL3P = [(-7,0),(-3.0,0),(-2.8,0.04),(-2.6,0.12),(-2.45,0.15),(-2.3,0.1),(-2.1,0.02),(-1.8,0.01),(-1.4,0.01),(-1.0,0),(5.5,0),(6.5,0.005),(7,0.01)]
F_AL3PZ = [(-7,0),(-2.9,0),(-2.7,0.04),(-2.5,0.12),(-2.35,0.15),(-2.2,0.1),(-2.0,0.02),(-1.5,0.01),(-1.0,0),(5.5,0),(6.5,0.01),(7,0.02)]

# panel (g)  C = 1:32, neutral
G_TOT = [(-6.5,7.5),(-6.2,8.8),(-5.8,10.2),(-5.6,10.6),(-5.2,9.2),(-4.8,8.0),(-4.4,8.5),(-4.0,6.8),(-3.7,6.0),(-3.3,6.5),(-2.9,8.5),(-2.5,9.8),(-2.2,7.5),(-1.9,5.3),(-1.6,8.0),(-1.2,11.4),(-0.9,10.5),(-0.6,8.0),(-0.3,4.5),(0,2.3),(0.4,0.9),(0.8,0.35),(1.3,0.8),(1.8,2.0),(2.3,3.2),(2.7,3.6),(3.2,2.9),(4.0,2.2),(5.0,1.95),(6.0,2.1),(6.5,2.2),(7,1.8)]
G_C = [(-6.5,7.5),(-6.1,9.2),(-5.8,10.3),(-5.55,10.6),(-5.2,9.2),(-4.8,8.0),(-4.4,7.3),(-4.0,6.7),(-3.5,6.2),(-3.0,5.5),(-2.5,4.5),(-2.0,3.7),(-1.6,3.6),(-1.2,2.8),(-0.8,2.0),(-0.4,1.3),(0,0.8),(0.4,0.45),(0.8,0.3),(1.3,0.8),(1.8,2.0),(2.3,3.2),(2.7,3.6),(3.2,2.9),(4.0,2.2),(5.0,1.9),(6.0,2.0),(6.5,1.9),(7,0.9)]
G_CL = [(-6.5,0),(-5.0,0),(-4.7,0.5),(-4.4,1.2),(-4.1,0.5),(-3.7,0.05),(-3.3,0.5),(-2.9,3.0),(-2.5,4.3),(-2.2,2.5),(-1.95,1.6),(-1.6,4.5),(-1.2,8.4),(-0.9,7.5),(-0.6,4.5),(-0.3,1.5),(0,0.2),(0.3,0),(5.0,0),(6.0,0.2),(7,0.5)]
G_AL = [(-6.5,0),(-4.8,0),(-4.4,0.4),(-4.0,0.02),(-2.9,0.05),(-2.5,0.45),(-2.1,0.05),(-1.5,0.02),(0,0),(5.5,0),(6.3,0.1),(7,0.35)]
G_AB = [(-6.5,11.0),(-6.3,10.8),(-6.0,8.8),(-5.7,8.0),(-5.5,8.2),(-5.2,7.7),(-4.9,6.5),(-4.6,6.8),(-4.2,5.8),(-3.8,5.5),(-3.3,5.0),(-2.8,4.0),(-2.3,3.3),(-1.8,2.5),(-1.3,1.8),(-0.8,1.2),(-0.3,0.6),(0,0.3),(0.4,0.4),(0.9,1.3),(1.5,2.6),(2.0,3.4),(2.5,3.0),(3.0,2.3),(3.5,2.5),(4.0,1.6),(4.5,2.0),(5.0,2.0),(6.0,1.9),(7,1.9)]
G_C2S = [(-6.5,0.75),(-6,0.62),(-5,0.38),(-4,0.2),(-3,0.08),(-2,0.02),(-1.5,0),(5,0),(6,0.05),(7,0.15)]
G_C2P = [(-6.5,2.8),(-6.1,3.6),(-5.65,4.15),(-5.3,3.7),(-5.0,3.1),(-4.6,2.5),(-4.0,2.0),(-3.5,1.7),(-3.1,1.45),(-2.8,1.1),(-2.5,0.55),(-2.2,0.15),(-1.9,0.02),(-1.6,0),(5,0),(6,0.03),(7,0.08)]
G_C2PZ = [(-6.5,1.6),(-6.3,1.9),(-6,2.0),(-5,2.1),(-4,2.25),(-3.5,2.35),(-3.0,2.5),(-2.6,2.75),(-2.2,3.1),(-1.9,3.45),(-1.65,3.55),(-1.3,3.2),(-0.9,2.6),(-0.5,2.0),(-0.1,1.3),(0.3,0.6),(0.85,0.22),(1.4,0.6),(1.9,1.5),(2.4,2.6),(2.75,3.55),(3.1,3.1),(3.6,2.55),(4.2,2.2),(5.0,1.95),(6.0,1.8),(7,1.65)]
G_CL3S = [(-6.5,0),(-4.9,0.01),(-4.4,0.12),(-3.9,0.01),(-2.9,0.02),(-2.5,0.07),(-2.1,0.02),(-1.5,0),(5.0,0),(6.0,0.08),(7,0.15)]
G_CL3P = [(-6.5,0),(-5.3,0.02),(-4.8,0.12),(-4.4,0.37),(-4.0,0.12),(-3.6,0.05),(-3.2,0.4),(-2.8,1.2),(-2.5,1.48),(-2.2,0.95),(-1.95,0.55),(-1.7,1.3),(-1.45,2.4),(-1.2,2.82),(-0.95,2.5),(-0.7,1.9),(-0.45,1.0),(-0.2,0.3),(0.1,0.03),(0.4,0),(4.5,0),(5.5,0.04),(6.5,0.12),(7,0.16)]
G_CL3PZ = [(-6.5,0),(-5.3,0.02),(-4.8,0.1),(-4.4,0.35),(-4.0,0.1),(-3.6,0.04),(-3.2,0.35),(-2.8,1.1),(-2.5,1.35),(-2.2,0.85),(-1.95,0.45),(-1.7,1.3),(-1.45,2.45),(-1.2,2.88),(-0.95,2.55),(-0.7,1.95),(-0.45,1.0),(-0.2,0.3),(0.1,0.03),(0.4,0),(4.5,0),(5.5,0.04),(6.5,0.11),(7,0.15)]
G_AL3S = [(-6.5,0),(-5.0,0),(-4.75,0.05),(-4.55,0.22),(-4.35,0.37),(-4.15,0.22),(-3.95,0.05),(-3.7,0),(-2.6,0.01),(-2.0,0.005),(0,0),(4.5,0),(5.5,0.03),(6.0,0.08),(6.5,0.17),(7,0.27)]
G_AL3P = [(-6.5,0),(-2.9,0),(-2.7,0.04),(-2.5,0.11),(-2.35,0.13),(-2.2,0.09),(-2.0,0.02),(-1.5,0.005),(0,0),(6.0,0),(7,0.02)]
G_AL3PZ = [(-6.5,0),(-2.9,0),(-2.7,0.04),(-2.5,0.11),(-2.35,0.13),(-2.2,0.09),(-2.0,0.02),(-1.5,0.005),(0,0),(6.0,0),(7,0.03)]

# panel (h)  C = 1:54, neutral
H_TOT = [(-7,10.5),(-6.5,14.0),(-6.1,16.8),(-5.8,17.9),(-5.5,16.5),(-5.1,14.5),(-4.8,14.0),(-4.4,12.5),(-4.0,11.0),(-3.6,11.3),(-3.3,13.0),(-3.0,13.8),(-2.7,12.0),(-2.4,9.5),(-2.1,10.0),(-1.8,11.5),(-1.5,12.7),(-1.2,10.5),(-0.9,8.5),(-0.6,7.0),(-0.3,3.5),(0,1.5),(0.4,0.5),(0.7,0.3),(1.2,1.2),(1.7,3.0),(2.2,5.2),(2.5,6.0),(2.9,4.8),(3.5,3.7),(4.5,3.3),(5.5,3.1),(6.3,2.6),(7,1.2)]
H_C = [(-7,10.5),(-6.5,14.0),(-6.1,16.8),(-5.8,17.9),(-5.5,16.5),(-5.1,14.2),(-4.7,12.6),(-4.2,11.3),(-3.7,10.3),(-3.2,9.5),(-2.8,8.4),(-2.4,7.0),(-2.0,6.0),(-1.6,5.2),(-1.2,4.0),(-0.8,2.8),(-0.4,1.7),(0,0.9),(0.4,0.4),(0.7,0.3),(1.2,1.2),(1.7,3.0),(2.2,5.2),(2.5,6.0),(2.9,4.8),(3.5,3.7),(4.5,3.3),(5.5,3.0),(6.3,2.5),(7,1.2)]
H_CL = [(-7,0),(-5.3,0),(-5.0,0.6),(-4.8,1.3),(-4.5,0.6),(-4.1,0.05),(-3.7,0.5),(-3.3,3.0),(-3.0,4.2),(-2.7,2.5),(-2.4,1.6),(-2.0,3.5),(-1.5,7.0),(-1.2,5.5),(-0.9,5.4),(-0.6,3.5),(-0.3,1.0),(0,0.1),(0.3,0),(7,0)]
H_AL = [(-7,0),(-5.2,0),(-4.8,0.35),(-4.4,0.02),(-3.4,0.05),(-3.0,0.45),(-2.6,0.05),(-2.0,0.02),(0,0),(7,0.05)]
H_AB = [(-7,14.0),(-6.6,17.5),(-6.3,18.2),(-6.0,14.5),(-5.7,13.0),(-5.5,14.0),(-5.2,12.5),(-4.9,9.5),(-4.6,10.5),(-4.2,9.8),(-3.7,9.0),(-3.2,8.0),(-2.7,6.5),(-2.2,5.2),(-1.7,4.3),(-1.2,3.0),(-0.7,1.8),(-0.2,0.8),(0.1,0.3),(0.5,0.8),(1.0,2.5),(1.5,4.5),(1.9,5.8),(2.3,5.0),(2.8,4.0),(3.3,3.8),(3.8,2.8),(4.0,2.5),(4.3,3.2),(4.8,3.3),(5.5,3.1),(6.3,2.6),(7,1.2)]
H_C2S = [(-7,1.45),(-6.5,1.15),(-6,0.9),(-5,0.55),(-4,0.28),(-3,0.1),(-2,0.02),(-1.5,0),(4,0),(5,0.08),(6,0.1),(7,0.05)]
H_C2P = [(-7,4.0),(-6.6,4.8),(-6.2,6.0),(-5.8,6.9),(-5.5,6.3),(-5.1,5.0),(-4.6,4.1),(-4.0,3.5),(-3.5,3.0),(-3.1,2.6),(-2.8,2.0),(-2.5,0.9),(-2.2,0.2),(-1.9,0.03),(-1.6,0),(4,0),(5,0.03),(6,0.05),(7,0.03)]
H_C2PZ = [(-7,1.3),(-6.8,2.7),(-6.5,3.05),(-6,3.15),(-5,3.3),(-4,3.6),(-3.5,3.8),(-3.0,4.1),(-2.6,4.6),(-2.2,5.3),(-1.9,5.9),(-1.7,6.0),(-1.4,5.4),(-1.0,4.3),(-0.6,3.1),(-0.2,1.9),(0.2,0.9),(0.7,0.35),(1.2,0.9),(1.7,2.5),(2.2,4.5),(2.55,6.0),(2.9,5.2),(3.4,4.2),(4.0,3.6),(5.0,3.2),(6.0,2.9),(6.5,2.5),(7,1.2)]
H_CL3S = [(-7,0),(-5.3,0.01),(-4.8,0.16),(-4.3,0.01),(-3.4,0.02),(-3.0,0.09),(-2.6,0.02),(-1.8,0),(4,0),(5,0.03),(6,0.05),(7,0.03)]
H_CL3P = [(-7,0),(-5.5,0.02),(-5.1,0.15),(-4.8,0.42),(-4.5,0.15),(-4.1,0.05),(-3.7,0.4),(-3.3,1.2),(-3.0,1.48),(-2.7,1.0),(-2.45,0.62),(-2.1,1.3),(-1.75,2.0),(-1.5,2.15),(-1.25,1.75),(-1.1,1.45),(-0.85,1.75),(-0.6,1.2),(-0.35,0.4),(-0.1,0.05),(0.2,0),(4,0),(5,0.03),(6,0.05),(7,0.03)]
H_CL3PZ = [(-7,0),(-5.5,0.02),(-5.1,0.1),(-4.8,0.3),(-4.5,0.1),(-4.1,0.04),(-3.7,0.3),(-3.3,0.85),(-3.0,1.02),(-2.7,0.6),(-2.45,0.3),(-2.1,1.1),(-1.75,2.3),(-1.45,2.82),(-1.2,2.4),(-0.95,2.0),(-0.8,1.7),(-0.6,1.1),(-0.35,0.35),(-0.1,0.05),(0.2,0),(4,0),(5,0.03),(6,0.05),(7,0.03)]
H_AL3S = [(-7,0),(-5.4,0),(-5.15,0.05),(-4.95,0.22),(-4.8,0.37),(-4.6,0.22),(-4.4,0.05),(-4.15,0),(-3.0,0.01),(-2.0,0.005),(0,0),(4.5,0),(5.5,0.005),(6.5,0.015),(7,0.02)]
H_AL3P = [(-7,0),(-3.4,0),(-3.2,0.05),(-3.05,0.155),(-2.85,0.1),(-2.65,0.02),(-2.3,0.01),(-1.8,0.005),(0,0),(6.0,0),(6.8,0.008),(7,0.005)]
H_AL3PZ = [(-7,0),(-3.3,0),(-3.1,0.05),(-2.95,0.15),(-2.75,0.1),(-2.55,0.02),(-2.0,0.01),(0,0),(5.5,0),(6.5,0.02),(7,0.015)]

TITLES = ["DOS of  AlCl$_4^-$ : C = 1 : 16", "DOS of AlCl$_4^-$ : C = 1 : 24",
          "DOS of AlCl$_4^-$ : C =1 : 32", "DOS of  AlCl$_4^-$ : C = 1 : 54",
          "DOS of AlCl$_4$ : C = 1 : 16", "DOS of AlCl$_4$ : C = 1 : 24",
          "DOS of AlCl4 : C =1 : 32", "DOS of AlCl$_4$ : C =1 : 54"]
TAGS = ["(a)", "(b)", "(c)", "(d)", "(e)", "(f)", "(g)", "(h)"]

# ---------------- layout (pixel boxes: left, top, right, bottom) ----------------
W, H = 707, 992
LAYOUT = [
    dict(tag=(2, 1), dos=(23, 13, 146, 103), cl=(23, 137, 146, 212), c=(214, 13, 337, 103), al=(214, 119, 337, 211),
         cly=111, aly=114, xlim=(-7, 7), ydos=(11.5, 2, "%d"), ycl=(3.25, 0.5, "%.1f"), yc=(2.5, 0.5, "%.1f"), yal=(0.47, 0.1, "%.1f")),
    dict(tag=(372, 8), dos=(391, 13, 511, 104), cl=(391, 137, 511, 209), c=(583, 15, 702, 103), al=(583, 118, 702, 207),
         cly=112, aly=112, xlim=(-6, 7), ydos=(13.1, 2, "%d"), ycl=(3.5, 0.5, "%.1f"), yc=(3.0, 0.5, "%.1f"), yal=(0.45, 0.1, "%.1f")),
    dict(tag=(3, 240), dos=(19, 253, 146, 350), cl=(19, 379, 146, 463), c=(197, 253, 337, 350), al=(197, 370, 337, 458),
         cly=360, aly=363, xlim=(-7, 7), ydos=(14, 2, "%d"), ycl=(3.5, 0.5, "%.1f"), yc=(4.4, 1, "%d"), yal=(0.45, 0.1, "%.1f")),
    dict(tag=(371, 250), dos=(389, 259, 505, 352), cl=(389, 377, 505, 458), c=(582, 259, 700, 352), al=(582, 375, 700, 458),
         cly=363, aly=366, xlim=(-7, 7), ydos=(19.6, 2, "%d"), ycl=(3.5, 0.5, "%.1f"), yc=(7.5, 1, "%d"), yal=(0.45, 0.1, "%.1f")),
    dict(tag=(3, 490), dos=(21, 503, 147, 601), cl=(21, 622, 147, 717), c=(212, 503, 338, 601), al=(212, 620, 338, 717),
         cly=614, aly=613, xlim=(-7, 7), ydos=(10, 2, "%d"), ycl=(3.0, 0.5, "%.1f"), yc=(2.73, 0.5, "%.1f"), yal=(0.4, 0.05, "%.2f")),
    dict(tag=(370, 490), dos=(387, 505, 508, 601), cl=(387, 632, 508, 717), c=(580, 505, 700, 601), al=(580, 625, 700, 717),
         cly=615, aly=615, xlim=(-7, 7), ydos=(10.8, 2, "%d"), ycl=(3.3, 0.5, "%.1f"), yc=(3.5, 0.5, "%.1f"), yal=(0.42, 0.05, "%.2f")),
    dict(tag=(20, 750), dos=(33, 767, 152, 862), cl=(33, 876, 152, 975), c=(203, 767, 337, 862), al=(203, 880, 337, 975),
         cly=869, aly=871, xlim=(-6.5, 7), ydos=(12.9, 2, "%d"), ycl=(3.3, 0.5, "%.1f"), yc=(4.5, 1, "%d"), yal=(0.4, 0.05, "%.2f")),
    dict(tag=(370, 760), dos=(383, 772, 511, 867), cl=(383, 886, 511, 975), c=(578, 773, 698, 868), al=(578, 886, 698, 977),
         cly=878, aly=878, xlim=(-7, 7), ydos=(20, 2, "%d"), ycl=(3.35, 0.5, "%.1f"), yc=(7.5, 1, "%d"), yal=(0.43, 0.05, "%.2f")),
]

# colours
BLACK, BLUE, RED, GREEN = "#111111", "#2b2bf0", "#f02020", "#2fa02f"

sns.set_theme(style="ticks")
plt.rcParams["font.family"] = ["Liberation Sans", "DejaVu Sans"]
plt.rcParams["mathtext.default"] = "regular"
plt.rcParams["axes.unicode_minus"] = False

fig = plt.figure(figsize=(W / 100, H / 100), dpi=100)


def box(b):
    l, t, r, bt = b
    return fig.add_axes([l / W, 1 - bt / H, (r - l) / W, (bt - t) / H])


def curve(ax, pts, color, ls="-", lw=0.7, label=None):
    df = pd.DataFrame(pts, columns=["energy", "dos"])
    sns.lineplot(data=df, x="energy", y="dos", ax=ax, color=color, linestyle=ls,
                 linewidth=lw, label=label, sort=False, estimator=None)


def style(ax, xlim, yspec, ylabel, xlabel="", title=None):
    top, step, fmt = yspec
    ax.set_xlim(*xlim)
    ax.set_ylim(0, top)
    ax.set_xticks([-6, -4, -2, 0, 2, 4, 6])
    n = int(round(top / step + 1e-6))
    ax.set_yticks([i * step for i in range(n + 1) if i * step <= top + 1e-9])
    ax.yaxis.set_major_formatter(FormatStrFormatter(fmt))
    ax.tick_params(labelsize=4.2, length=1.8, width=0.45, pad=1, colors="black")
    for s in ax.spines.values():
        s.set_linewidth(0.55)
        s.set_color("black")
    ax.set_ylabel(ylabel, fontsize=4.0, labelpad=1.5)
    ax.set_xlabel(xlabel, fontsize=4.6, labelpad=1)
    if title:
        ax.set_title(title, fontsize=4.8, pad=2.5)
    leg = ax.legend(loc="upper right", fontsize=3.9, frameon=True, fancybox=False,
                    handlelength=2.4, handletextpad=0.4, borderpad=0.25,
                    labelspacing=0.08, borderaxespad=0.15)
    leg.get_frame().set_edgecolor("black")
    leg.get_frame().set_linewidth(0.4)
    for line in leg.get_lines():
        line.set_linewidth(1.1)


PANELS = [
    (A_TOT, A_C, A_CL, A_AL, A_AB, A_C2S, A_C2P, A_C2PZ, A_CL3S, A_CL3P, A_CL3PZ, A_AL3S, A_AL3P, A_AL3PZ),
    (B_TOT, B_C, B_CL, B_AL, B_AB, B_C2S, B_C2P, B_C2PZ, B_CL3S, B_CL3P, B_CL3PZ, B_AL3S, B_AL3P, B_AL3PZ),
    (C_TOT, C_C, C_CL, C_AL, C_AB, C_C2S, C_C2P, C_C2PZ, C_CL3S, C_CL3P, C_CL3PZ, C_AL3S, C_AL3P, C_AL3PZ),
    (D_TOT, D_C, D_CL, D_AL, D_AB, D_C2S, D_C2P, D_C2PZ, D_CL3S, D_CL3P, D_CL3PZ, D_AL3S, D_AL3P, D_AL3PZ),
    (E_TOT, E_C, E_CL, E_AL, E_AB, E_C2S, E_C2P, E_C2PZ, E_CL3S, E_CL3P, E_CL3PZ, E_AL3S, E_AL3P, E_AL3PZ),
    (F_TOT, F_C, F_CL, F_AL, F_AB, F_C2S, F_C2P, F_C2PZ, F_CL3S, F_CL3P, F_CL3PZ, F_AL3S, F_AL3P, F_AL3PZ),
    (G_TOT, G_C, G_CL, G_AL, G_AB, G_C2S, G_C2P, G_C2PZ, G_CL3S, G_CL3P, G_CL3PZ, G_AL3S, G_AL3P, G_AL3PZ),
    (H_TOT, H_C, H_CL, H_AL, H_AB, H_C2S, H_C2P, H_C2PZ, H_CL3S, H_CL3P, H_CL3PZ, H_AL3S, H_AL3P, H_AL3PZ),
]

for i, (lay, data) in enumerate(zip(LAYOUT, PANELS)):
    (tot, c, cl, al, ab, c2s, c2p, c2pz, cl3s, cl3p, cl3pz, al3s, al3p, al3pz) = data
    neutral = i >= 4
    if i == 4:
        dos_lab, pdos_lab = "Dos(states/cell · ev)", "PDOS(states/cell · eV)"
    else:
        dos_lab, pdos_lab = "DOS(states/eV · cell)", "PDOS(states/eV · cell)"
    if i == 7:
        dos_lab = "PDOS(states/eV · cell)"

    # total DOS
    ax = box(lay["dos"])
    curve(ax, tot, BLACK, label="total")
    curve(ax, c, BLUE, label="C")
    curve(ax, cl, RED, label="Cl")
    curve(ax, al, GREEN, label="Al")
    curve(ax, ab, "#6a6af5" if neutral else "#3c3cf0", ls=(0, (3, 1.5)), lw=0.7, label="AB-graphite")
    style(ax, lay["xlim"], lay["ydos"], dos_lab, title=TITLES[i])

    # PDOS of C
    ax = box(lay["c"])
    curve(ax, c2s, BLACK, label="C 2s")
    curve(ax, c2p, BLUE, label="C 2px")
    curve(ax, c2p, RED, ls=":", lw=0.8, label="C 2py")
    curve(ax, c2pz, GREEN, label="C 2pz")
    style(ax, lay["xlim"], lay["yc"], pdos_lab, title="PDOS of C")

    # PDOS of Cl
    ax = box(lay["cl"])
    curve(ax, cl3s, BLACK, label="Cl 3s")
    curve(ax, cl3p, BLUE, label="Cl 3px")
    curve(ax, cl3p, RED, ls=":", lw=0.8, label="Cl 3py")
    curve(ax, cl3pz, GREEN, label="Cl 3pz")
    style(ax, lay["xlim"], lay["ycl"], pdos_lab, xlabel="Energy(eV)")

    # PDOS of Al
    ax = box(lay["al"])
    curve(ax, al3s, BLACK, label="Al 3s")
    curve(ax, al3p, BLUE, label="Al 3px")
    curve(ax, al3p, RED, ls=":", lw=0.8, label="Al 3py")
    curve(ax, al3pz, GREEN, label="Al 3pz")
    style(ax, lay["xlim"], lay["yal"], pdos_lab, xlabel="Energy(eV)")

    l, t, r, b = lay["cl"]
    fig.text((l + r) / 2 / W, 1 - lay["cly"] / H, "PDOS of Cl", ha="center", va="center", fontsize=4.8)
    l, t, r, b = lay["al"]
    fig.text((l + r) / 2 / W, 1 - lay["aly"] / H, "PDOS of Al", ha="center", va="center", fontsize=4.8)
    tx, ty = lay["tag"]
    fig.text(tx / W, 1 - ty / H, TAGS[i], ha="left", va="top", fontsize=7.5,
             family=["Liberation Serif", "DejaVu Serif"], fontweight="bold")

fig.savefig("out.png", dpi=100)
